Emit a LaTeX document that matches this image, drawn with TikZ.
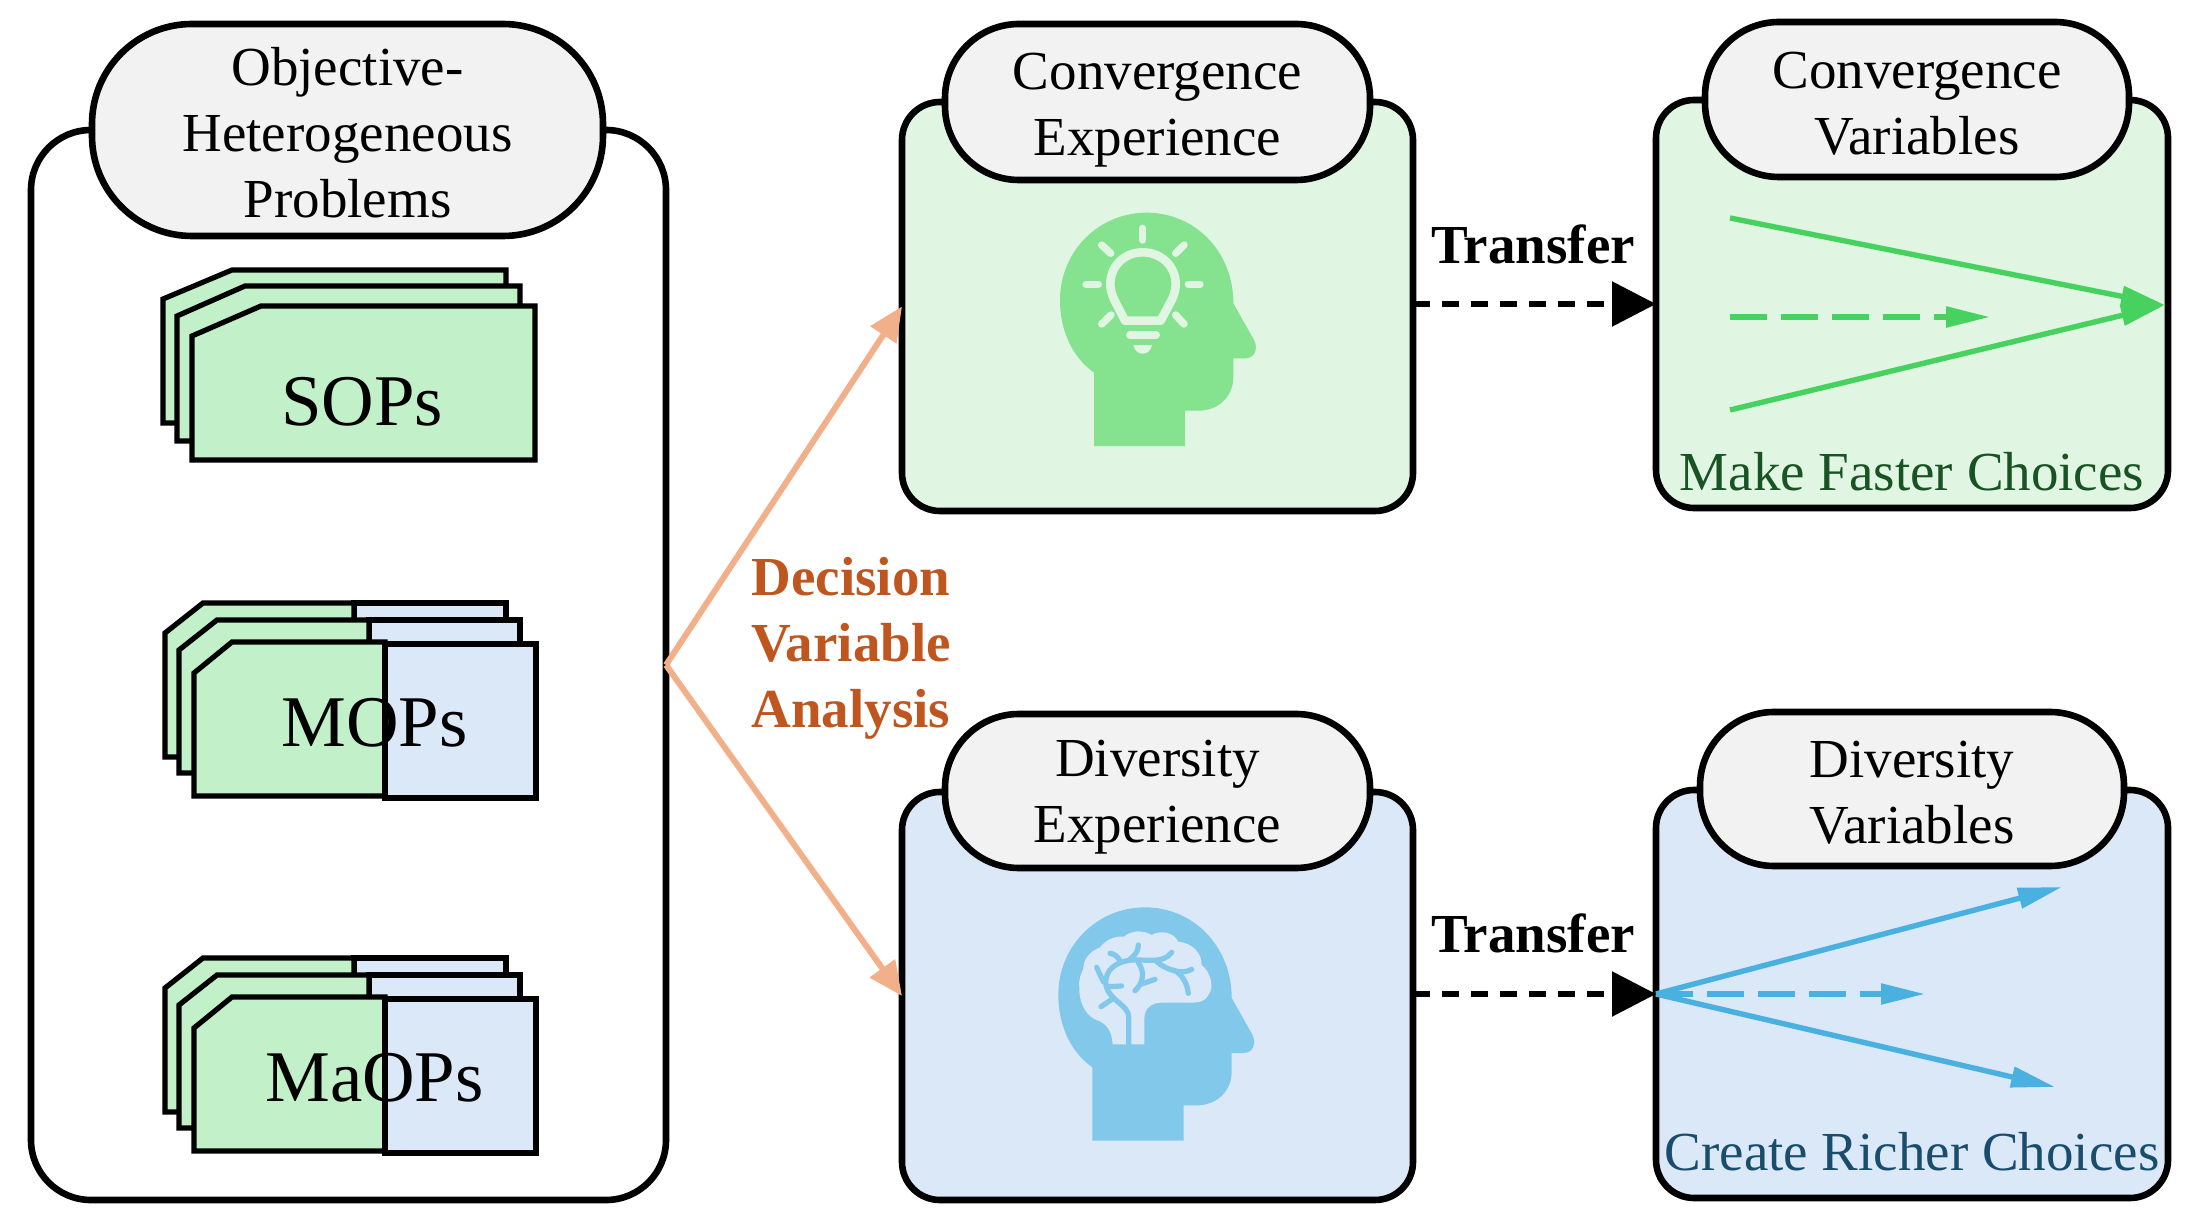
\documentclass[tikz,border=0pt]{standalone}
\usepackage{fontspec}
\setmainfont{Liberation Serif}
\usetikzlibrary{arrows.meta,calc}
\definecolor{pillfill}{HTML}{F2F2F2}
\definecolor{gbox}{HTML}{E0F6E2}
\definecolor{bbox}{HTML}{DAE8F7}
\definecolor{gcard}{HTML}{C2F0C8}
\definecolor{ghead}{HTML}{85E28F}
\definecolor{bhead}{HTML}{82C8EA}
\definecolor{garrow}{HTML}{47D15F}
\definecolor{barrow}{HTML}{4AB0E0}
\definecolor{orangeline}{HTML}{F2B08A}
\definecolor{orangetext}{HTML}{C0561F}
\definecolor{gtext}{HTML}{1A5323}
\definecolor{btext}{HTML}{1A4D6B}
\newcommand{\pushrule}[1]{\rule{0pt}{#1pt}}
\tikzset{
  txt/.style={font=\fontsize{27.5}{33}\selectfont,align=center,inner sep=0pt},
  boldtxt/.style={font=\fontsize{27.5}{33}\selectfont\bfseries,align=center,inner sep=0pt},
  cardtxt/.style={font=\fontsize{36.4}{40}\selectfont,inner sep=0pt,anchor=base},
  panel/.style={draw=black,line width=3.3pt,rounded corners=19pt,inner sep=0pt,outer sep=0pt},
  pill/.style={draw=black,line width=3.3pt,fill=pillfill,inner sep=0pt,outer sep=0pt,font=\fontsize{27.5}{33}\selectfont,align=center},
  card/.style={draw=black,line width=2.6pt,line join=miter},
  orangearrow/.style={draw=orangeline,line width=3pt,-{Triangle[length=17pt,width=15pt]}},
  transfer/.style={draw=black,line width=2.8pt,dash pattern=on 8.5pt off 6pt,-{Triangle[length=22pt,width=22pt]}},
  greenarrow/.style={draw=garrow,line width=2.7pt,-{Triangle[length=22pt,width=10pt]}},
  bluearrow/.style={draw=barrow,line width=2.7pt,-{Triangle[length=22pt,width=10pt]}},
  dashgreen/.style={greenarrow,dash pattern=on 18.5pt off 7pt},
  dashblue/.style={bluearrow,dash pattern=on 18.5pt off 7pt},
  iconline/.style={line cap=round,line join=round},
}
\begin{document}
\begin{tikzpicture}[x=0.5pt,y=-0.5pt]
\useasboundingbox (0,0) rectangle (2190,1229);
% panels
\node[panel,rounded corners=30pt,minimum width=317.5pt,minimum height=535pt] (big) at (348.5,665) {};
\node[panel,fill=gbox,minimum width=255.5pt,minimum height=204.5pt] (conv) at (1157.5,306.5) {};
\node[panel,fill=bbox,minimum width=255.5pt,minimum height=204pt] (dive) at (1157.5,996) {};
\node[panel,fill=gbox,minimum width=256pt,minimum height=204pt] (cvar) at (1912,304) {};
\node[panel,fill=bbox,minimum width=256pt,minimum height=204pt] (dvar) at (1912,994) {};
% pills
\node[pill,rounded corners=50pt,minimum width=255.5pt,minimum height=106pt] (objp) at (347.5,130) {\pushrule{22}Objective-\\Heterogeneous\\Problems};
\node[pill,rounded corners=37pt,minimum width=212.5pt,minimum height=78pt] (convp) at (1157.5,102) {\pushrule{26.7}Convergence\\Experience};
\node[pill,rounded corners=37pt,minimum width=212.5pt,minimum height=77pt] (divp) at (1157.5,791) {\pushrule{24.6}Diversity\\Experience};
\node[pill,rounded corners=37pt,minimum width=212pt,minimum height=77.5pt] (cvarp) at (1917,99.5) {\pushrule{22}Convergence\\Variables};
\node[pill,rounded corners=37pt,minimum width=212pt,minimum height=77pt] (dvarp) at (1912,789) {\pushrule{22}Diversity\\Variables};
% SOP cards
\draw[card,fill=gcard] (163,423) -- (163,299) -- (232,270) -- (506,270) -- (506,423) -- cycle;
\draw[card,fill=gcard] (177,441) -- (177,316) -- (245,286) -- (520,286) -- (520,441) -- cycle;
\draw[card,fill=gcard] (192,460) -- (192,336) -- (261,306) -- (535,306) -- (535,460) -- cycle;
\node[cardtxt] (sops) at (362,426) {SOPs};
% MOP cards
\foreach \dy/\nm/\lab in {0/mops/MOPs,355/maops/MaOPs}{
  \begin{scope}[yshift=-\dy*0.5pt]
    \draw[card,fill=bbox] (354,603) rectangle (506,757);
    \draw[card,fill=gcard] (165,757) -- (165,633) -- (203,603) -- (354,603) -- (354,757) -- cycle;
    \draw[card,fill=bbox] (369,620) rectangle (520,773);
    \draw[card,fill=gcard] (179,773) -- (179,650) -- (217,620) -- (369,620) -- (369,773) -- cycle;
    \draw[card,fill=gcard] (194,796) -- (194,673) -- (232,642) -- (385,642) -- (385,796) -- cycle;
    \draw[card,fill=bbox] (385,644) rectangle (536,798);
    \node[cardtxt] (\nm) at (374.5,746) {\lab};
  \end{scope}
}
% decision arrows
\draw[orangearrow] (big.east) -- (conv.west);
\draw[orangearrow] (big.east) -- (dive.west);
\node[boldtxt,text=orangetext] (dva) at (851,648) {Decision\\Variable\\Analysis};
% transfer
\draw[transfer] (cvar.west -| conv.east) -- (cvar.west);
\draw[transfer] (dvar.west -| dive.east) -- (dvar.west);
\node[boldtxt,anchor=base] (t1) at (1533,264) {Transfer};
\node[boldtxt,anchor=base] (t2) at (1533,952) {Transfer};
% right top arrows
\coordinate (ga) at (1730,218);
\coordinate (gb) at (1730,410);
\coordinate (gc) at (1730,317);
\coordinate (gd) at (1990,317);
\coordinate (ge) at (2165,305);
\draw[greenarrow] (ga) -- (ge);
\draw[greenarrow] (gb) -- (ge);
\draw[dashgreen] (gc) -- (gd);
\node[txt,anchor=base,text=gtext] (mfc) at (1912,491) {Make Faster Choices};
% right bottom arrows
\coordinate (ba) at (2062,887);
\coordinate (bb) at (2055,1087);
\coordinate (bc) at (1925,994);
\draw[bluearrow] (dvar.west) -- (ba);
\draw[bluearrow] (dvar.west) -- (bb);
\draw[dashblue] (dvar.west) -- (bc);
\node[txt,anchor=base,text=btext] (crc) at (1912,1170) {Create Richer Choices};
% green head icon
\begin{scope}[shift={(1000,200)},x=0.16667pt,y=-0.16667pt]
  \fill[ghead] (282,738) -- (282,518) .. controls (215,470) and (180,390) .. (180,300) .. controls (180,155) and (295,38) .. (440,38) .. controls (585,38) and (700,155) .. (700,310) -- (762,420) .. controls (775,445) and (765,475) .. (735,475) -- (700,475) -- (700,530) .. controls (700,590) and (655,632) .. (595,632) -- (555,632) -- (555,738) -- cycle;
  \draw[gbox,line width=4.3pt,iconline] (375,362) -- (482,362) -- (515,300) .. controls (522,285) and (527,270) .. (527,252) .. controls (527,198) and (483,157) .. (428,157) .. controls (373,157) and (331,198) .. (331,252) .. controls (331,270) and (336,285) .. (343,300) -- cycle;
  \foreach \a/\b/\c/\d in {428/85/428/120,305/135/332/160,552/135/527/160,258/253/295/253,565/253/600/253,305/372/333/345,552/372/527/345}{
    \draw[gbox,line width=3.7pt,iconline] (\a,\b) -- (\c,\d);
  }
  \draw[gbox,line width=4pt,iconline] (390,405) -- (468,405);
  \fill[gbox] (400,435) -- (456,435) .. controls (450,470) and (406,470) .. cycle;
\end{scope}
% blue head icon
\begin{scope}[shift={(1000,890)},x=0.16667pt,y=-0.16667pt]
  \fill[bhead] (277,752) -- (277,532) .. controls (210,484) and (175,404) .. (175,314) .. controls (175,169) and (290,52) .. (435,52) .. controls (580,52) and (695,169) .. (695,324) -- (757,434) .. controls (770,459) and (760,489) .. (730,489) -- (695,489) -- (695,544) .. controls (695,604) and (650,646) .. (590,646) -- (551,646) -- (551,752) -- cycle;
  \fill[bbox] (338,463) .. controls (335,420) and (320,400) .. (285,388) .. controls (255,375) and (235,330) .. (238,290) .. controls (235,265) and (245,250) .. (250,235) .. controls (250,200) and (280,180) .. (300,172) .. controls (320,145) and (350,138) .. (372,140) .. controls (395,120) and (430,120) .. (455,135) .. controls (480,120) and (520,125) .. (535,155) .. controls (580,160) and (605,190) .. (605,225) .. controls (630,245) and (645,290) .. (625,315) .. controls (615,335) and (595,338) .. (575,338) -- (485,338) .. controls (455,338) and (433,355) .. (433,385) -- (433,463) -- cycle;
  \begin{scope}[bhead,line width=2.6pt,iconline]
    \draw (386,463) -- (386,380) .. controls (386,345) and (325,330) .. (318,285) .. controls (312,240) and (350,212) .. (400,210) .. controls (440,208) and (490,222) .. (515,187);
    \draw (290,232) -- (310,275);
    \draw (330,190) .. controls (345,192) and (352,200) .. (360,212);
    \draw (415,165) .. controls (415,185) and (405,195) .. (390,208);
    \draw (470,215) .. controls (500,240) and (545,255) .. (575,238);
    \draw (520,240) .. controls (545,250) and (562,280) .. (565,310);
    \draw (415,218) .. controls (435,245) and (430,280) .. (405,302);
    \draw (425,282) -- (465,268);
    \draw (322,290) -- (365,288);
    \draw (340,325) -- (303,350);
  \end{scope}
\end{scope}
\end{tikzpicture}
\end{document}
